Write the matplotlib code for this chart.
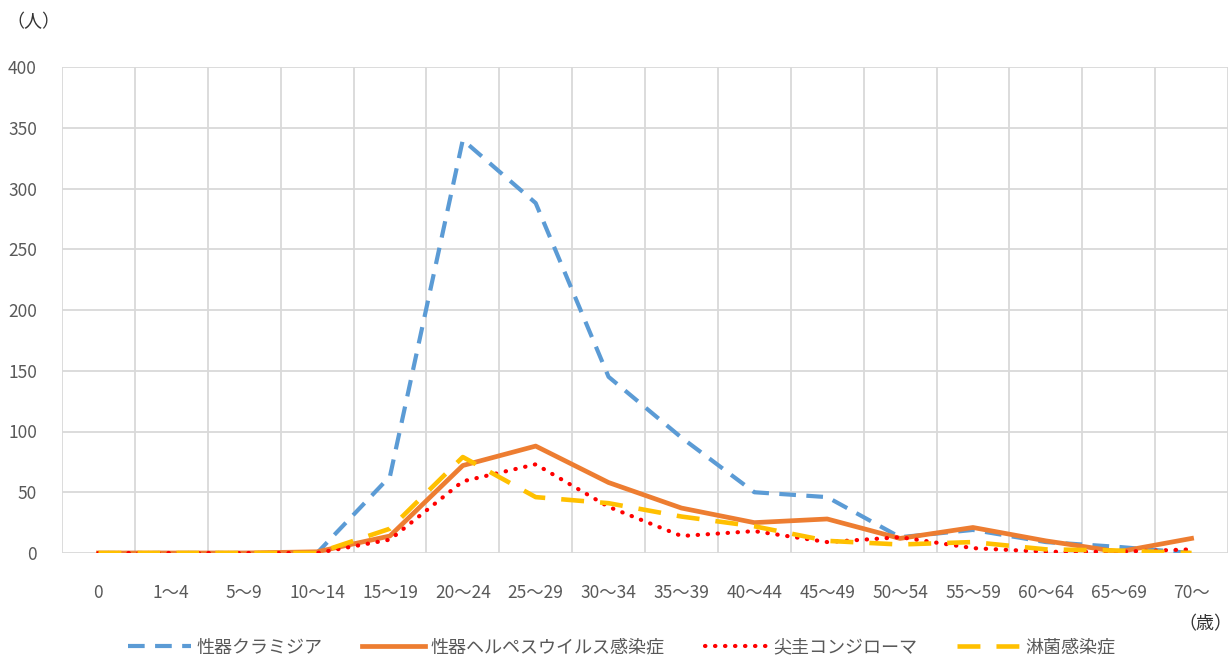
# Age distribution of STD reports (recreated chart)

import matplotlib.pyplot as plt
import numpy as np

plt.rcParams['font.family'] = ['Noto Sans CJK JP', 'DejaVu Sans']

ages = ["0", "1～4", "5～9", "10～14", "15～19", "20～24", "25～29", "30～34",
        "35～39", "40～44", "45～49", "50～54", "55～59", "60～64", "65～69", "70～"]

chlamydia = [0, 0, 0, 0, 63, 340, 288, 145, 95, 50, 46, 13, 19, 9, 5, 0]
herpes = [0, 0, 0, 1, 14, 72, 88, 58, 37, 25, 28, 12, 21, 10, 1, 12]
condyloma = [0, 0, 0, 0, 11, 59, 73, 38, 14, 18, 9, 13, 4, 1, 1, 3]
gonorrhea = [0, 0, 0, 0, 20, 79, 46, 41, 30, 22, 10, 7, 9, 3, 2, 0]

grey = "#595959"
x = np.arange(len(ages))

fig = plt.figure(figsize=(12.3, 6.62), dpi=100)
ax = fig.add_axes([62/1230, 1 - 553/662, (1228-62)/1230, (553-67)/662])

ax.plot(x, chlamydia, color="#5B9BD5", lw=3, linestyle=(0, (4, 2.5)), label="性器クラミジア")
ax.plot(x, herpes, color="#ED7D31", lw=3.4, label="性器ヘルペスウイルス感染症")
ax.plot(x, condyloma, color="#FF0000", lw=3, linestyle=(0, (0.1, 2.3)),
        dash_capstyle="round", solid_capstyle="round", label="尖圭コンジローマ")
ax.plot(x, gonorrhea, color="#FFC000", lw=3.3, linestyle=(0, (5, 3.5)), label="淋菌感染症")

ax.set_xlim(-0.5, len(ages) - 0.5)
ax.set_ylim(0, 400)
ax.set_yticks(range(0, 401, 50))
ax.set_xticks(x)
ax.set_xticklabels(ages)
ax.set_xticks(np.arange(-0.5, len(ages), 1), minor=True)
ax.grid(axis="y", color="#D9D9D9", lw=1.3)
ax.grid(axis="x", which="minor", color="#D9D9D9", lw=1.3)
ax.set_axisbelow(True)
for s in ax.spines.values():
    s.set_visible(False)
ax.tick_params(axis="both", which="both", length=0, labelsize=12.5, colors=grey)
ax.tick_params(axis="x", pad=22)
ax.tick_params(axis="y", pad=18)

fig.text(33/1230, 1 - 22/662, "（人）", fontsize=13, color="#333333", ha="center", va="center")
fig.text(1205/1230, 1 - 624/662, "（歳）", fontsize=13, color="#333333", ha="center", va="center")

ax.legend(loc="center", bbox_to_anchor=(0.5 - 0.02, -0.195), ncol=4, frameon=False,
          fontsize=13, handlelength=3.5, columnspacing=2.2, handletextpad=0.3,
          labelcolor=grey)

fig.savefig("out.png", dpi=100)
